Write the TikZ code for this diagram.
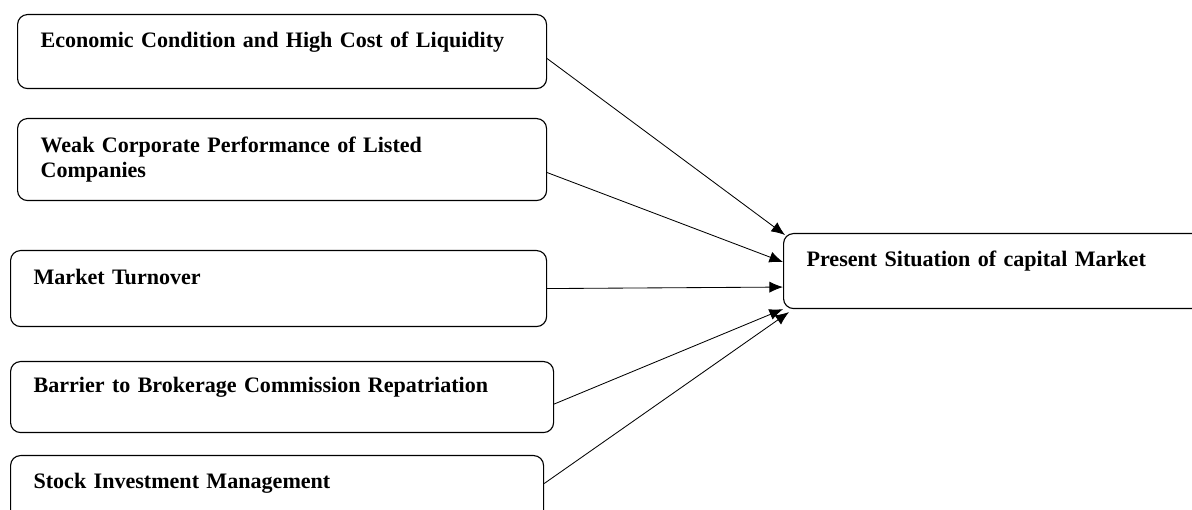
\documentclass[tikz,border=0pt]{standalone}
\usepackage{fontspec}
\setmainfont{Liberation Serif}
\usetikzlibrary{calc,positioning,arrows.meta}
\tikzset{%
  factor/.style = { draw, rounded corners=2.5mm, anchor=north west, align=left, line width=0.8pt,
                    inner xsep=0.575cm, inner ysep=0pt, font=\fontsize{15.7}{18}\selectfont\bfseries },
  topline/.style = { text depth=17pt },
  link/.style = { line width=0.6pt, -{Latex[length=3.4mm,width=2.8mm]} }
}
\begin{document}
\begin{tikzpicture}[x=0.025cm, y=-0.025cm]

  \clip (0,0) rectangle (1192,510);

  % Factors
  \node[factor, topline, text width=483*0.025cm, minimum height=74*0.025cm] (econ) at (17,14) {Economic Condition and High Cost of Liquidity};
  \node[factor, text width=483*0.025cm, minimum height=82*0.025cm] (weak) at (17,118) {Weak Corporate Performance of Listed\\Companies};
  \node[factor, topline, text width=490*0.025cm, minimum height=76*0.025cm] (turn) at (10,250) {Market Turnover};
  \node[factor, topline, text width=497*0.025cm, minimum height=71*0.025cm] (barrier) at (10,361) {Barrier to Brokerage Commission Repatriation};
  \node[factor, topline, text width=487*0.025cm, minimum height=74*0.025cm] (stock) at (10,455) {Stock Investment Management};

  % Outcome
  \node[factor, topline, text width=400*0.025cm, minimum height=75*0.025cm] (present) at (783,233) {Present Situation of capital Market};

  % Links
  \draw[link] ($(econ.east)+(0,7)$) -- ($(present.north west)+(2,2)$);
  \draw[link] ($(weak.east)+(0,13)$) -- ($(present.west)+(0,-9)$);
  \draw[link] (turn.east) -- ($(present.west)+(0,16)$);
  \draw[link] ($(barrier.east)+(0,7)$) -- ($(present.south west)+(0,0)$);
  \draw[link] ($(stock.east)+(0,-9)$) -- ($(present.south west)+(6,3)$);

\end{tikzpicture}
\end{document}
